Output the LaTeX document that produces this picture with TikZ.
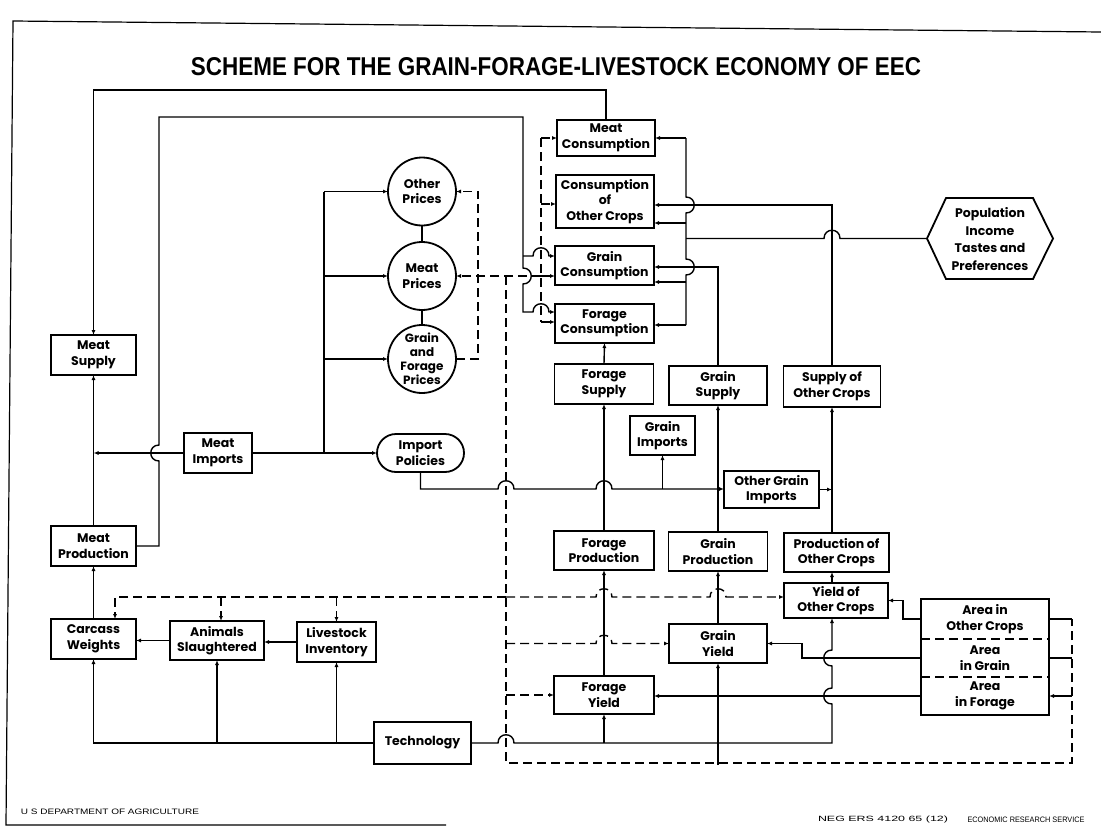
\documentclass[tikz,border=0pt]{standalone}
\usepackage{fontspec}
\setmainfont{Poppins}
\newfontfamily\titlefont{Liberation Sans}
\newfontfamily\footfont{Liberation Sans}
\usetikzlibrary{arrows.meta,shapes.misc,calc}
\tikzset{
  every node/.style={inner sep=0pt, outer sep=0pt},
  lbl/.style={font=\bfseries\fontsize{12.5}{15.5}\selectfont, align=center, text=black},
  box/.style 2 args={lbl, draw, line width=1.8pt, rectangle, minimum width=#1pt, minimum height=#2pt},
  circ/.style={lbl, draw, circle, line width=1.8pt, minimum size=68pt},
  ln/.style={line width=1.4pt},
  thk/.style={line width=2.2pt},
  dsh/.style={line width=1.4pt, dash pattern=on 9pt off 5pt},
  arr/.style={-{Latex[length=5pt,width=4pt]}},
  hjr/.style 2 args={insert path={-- (#1-8,#2) .. controls (#1-8,#2-11) and (#1+8,#2-11) .. (#1+8,#2)}},
  hjl/.style 2 args={insert path={-- (#1+8,#2) .. controls (#1+8,#2-11) and (#1-8,#2-11) .. (#1-8,#2)}},
  vjd/.style 2 args={insert path={-- (#1,#2-8) .. controls (#1+11,#2-8) and (#1+11,#2+8) .. (#1,#2+8)}},
  vjul/.style 2 args={insert path={-- (#1,#2+8) .. controls (#1-11,#2+8) and (#1-11,#2-8) .. (#1,#2-8)}},
}
\begin{document}
\begin{tikzpicture}[x=1pt,y=-1pt]
\useasboundingbox (0,0) rectangle (1101,827);
% frame
\draw[line width=1.2pt] (1101,32) -- (13,21) -- (6,825) -- (446,825);
% title
\node[font=\titlefont\bfseries] (title) at (556,67) {\resizebox{730pt}{18pt}{SCHEME FOR THE GRAIN-FORAGE-LIVESTOCK ECONOMY OF EEC}};
% consumption column
\node[box={98}{36}] (mcons) at (606,138) {Meat\\Consumption};
\node[box={98}{53}] (ocons) at (605,201.5) {Consumption\\of\\Other Crops};
\node[box={99}{39}] (gcons) at (604.5,265.5) {Grain\\Consumption};
\node[box={99}{39}] (fcons) at (604.5,323.5) {Forage\\Consumption};
% supply
\node[box={99}{40}] (fsup) at (604,384) {Forage\\Supply};
\node[box={98}{39}] (gsup) at (718,385.5) {Grain\\Supply};
\node[box={97}{41}] (osup) at (832,386.5) {Supply of\\Other Crops};
\node[box={65}{39}] (gimp) at (662.5,435.5) {Grain\\Imports};
\node[box={95}{37}] (ogimp) at (771.5,489.5) {Other Grain\\Imports};
% production
\node[box={100}{39}] (fprod) at (604,550.5) {Forage\\Production};
\node[box={99}{39}] (gprod) at (718,551.5) {Grain\\Production};
\node[box={105}{39}] (oprod) at (836.5,552.5) {Production of\\Other Crops};
\node[box={104}{35}] (oyield) at (836,600.5) {Yield of\\Other Crops};
\node[box={98}{39}] (gyield) at (718,643.5) {Grain\\Yield};
\node[box={100}{38}] (fyield) at (604,695) {Forage\\Yield};
% area block
\node[lbl, minimum width=128pt, minimum height=40pt] (ar1) at (985,619) {Area in\\Other Crops};
\node[lbl, minimum width=128pt, minimum height=38pt] (ar2) at (985,658) {Area\\in Grain};
\node[lbl, minimum width=128pt, minimum height=38pt] (ar3) at (985,696) {Area\\in Forage};
\draw[line width=1.8pt] (ar1.north west) rectangle (ar3.south east);
\draw[dsh] (ar1.south west) -- (ar1.south east);
\draw[dsh] (ar2.south west) -- (ar2.south east);
% prices
\node[circ] (oprice) at (422,191.5) {Other\\Prices};
\node[circ] (mprice) at (422,276) {Meat\\Prices};
\node[circ, font=\bfseries\fontsize{12}{14}\selectfont] (gfprice) at (422,359) {Grain\\and\\Forage\\Prices};
\node[lbl, draw, rounded rectangle, line width=1.8pt, minimum width=87pt, minimum height=38pt] (impol) at (420.5,453) {Import\\Policies};
% livestock side
\node[box={68}{40}] (mimp) at (218,453) {Meat\\Imports};
\node[box={85}{40}] (msup) at (93.5,355) {Meat\\Supply};
\node[box={85}{40}] (mprod) at (93.5,546) {Meat\\Production};
\node[box={85}{40}] (carc) at (93.5,639) {Carcass\\Weights};
\node[box={94}{39}] (anim) at (217,640.5) {Animals\\Slaughtered};
\node[box={79}{40}] (live) at (336.5,642) {Livestock\\Inventory};
\node[box={97}{42}] (tech) at (422.5,743) {Technology};
% population hexagon
\node[lbl, font=\bfseries\fontsize{12.5}{17.5}\selectfont] (pop) at (990,239) {Population\\Income\\Tastes and\\Preferences};
\draw[line width=1.8pt] (927,238.5) -- (946,198) -- (1033,198) -- (1053,238.5) -- (1033,279) -- (946,279) -- cycle;
\coordinate (popw) at (927,238.5);
% ---- connectors ----
\draw[ln,arr] (mcons.north) |- (msup.north |- 0,90) -- (msup.north);
\draw[ln,arr] (mprod.east) -- (159,546) [vjul={159}{453}] -- (159,117) -- (523,117) [vjd={523}{276}] -- (523,312) [hjr={541}{312}] -- (fcons.west |- 0,312);
\draw[ln,arr] (523,256) [hjr={541}{256}] -- (gcons.west |- 0,256);
\coordinate (mj) at (93.5,453);
\draw[ln,arr] (mimp.west) -- (mj);
\draw[ln,arr] (mprod.north) -- (msup.south);
\draw[ln,arr] (carc.north) -- (mprod.south);
\draw[ln,arr] (anim.west) -- (carc.east |- anim.west);
\draw[ln,arr] (live.west) -- (anim.east |- live.west);
\draw[ln,arr] (tech.west) -| (carc.south);
\draw[ln,arr] (anim.south |- tech.west) -- (anim.south);
\draw[ln,arr] (live.south |- tech.west) -- (live.south);
\draw[ln,arr] (tech.east) [hjr={506}{743}] -- (832,743) [vjul={832}{696}] [vjul={832}{658}] -- (oyield.south -| osup.south);
\draw[ln,arr] (fyield.south |- 0,743) -- (fyield.south);
\draw[ln,arr] (gyield.south |- 0,765) -- (gyield.south);
% price dashed network
\draw[dsh,arr] (gfprice.east) -- (478,359) -- (478,191.5) -- (oprice.east);
\draw[dsh,arr] (541,276) -- (mprice.east);
\draw[dsh] (541,138) -- (541,322);
\draw[dsh,arr] (541,138) -- (mcons.west);
\draw[dsh,arr] (541,204) -- (ocons.west |- 0,204);
\draw[dsh,arr] (541,276) -- (gcons.west |- 0,276);
\draw[dsh,arr] (541,322) -- (fcons.west |- 0,322);
\draw[dsh] (506,276) -- (506,763) -| (1072,619);
\draw[ln] (1072,619) -- (ar1.east);
\draw[ln] (1072,658) -- (ar2.east);
\draw[ln,arr] (1072,696) -- (ar3.east);
\draw[dsh,arr] (506,597) -| (carc.north -| 115,0);
\draw[dsh,arr] (221,597) -- (anim.north -| 221,0);
\draw[dsh,arr] (336.5,597) -- (live.north);
\draw[dsh,arr] (506,597) [hjr={604}{597}] [hjr={718}{597}] -- (oyield.west |- 0,597);
\draw[dsh,arr] (506,643.5) [hjr={604}{643.5}] -- (gyield.west);
\draw[dsh,arr] (506,695) -- (fyield.west);
% imports
\draw[ln,arr] (impol.south) |- (498,489) [hjr={506}{489}] [hjr={604}{489}] -- (ogimp.west |- 0,489);
\draw[ln,arr] (gimp.south |- 0,489) -- (gimp.south);
\draw[ln,arr] (mimp.east) -- (impol.west);
\draw[ln] (324,453) -- (324,191.5);
\draw[ln,arr] (324,191.5) -- (oprice.west);
\draw[ln,arr] (324,276) -- (mprice.west);
\draw[ln,arr] (324,359) -- (gfprice.west);
\draw[thk] (oprice.south) -- (mprice.north);
\draw[thk] (mprice.south) -- (gfprice.north);
% population to consumption
\draw[ln] (686,138) [vjd={686}{205}] [vjd={686}{267}] -- (686,325);
\draw[ln,arr] (686,138) -- (mcons.east);
\draw[ln,arr] (686,223) -- (ocons.east |- 0,223);
\draw[ln,arr] (686,282) -- (gcons.east |- 0,282);
\draw[ln,arr] (686,325) -- (fcons.east |- 0,325);
\draw[ln] (popw) [hjl={832}{238.5}] -- (686,238.5);
% supply to consumption
\draw[ln,arr] (osup.north) |- (ocons.east |- 0,205);
\draw[ln,arr] (gsup.north) |- (gcons.east |- 0,267);
\draw[ln,arr] (fsup.north) -- (fcons.south);
% production to supply
\draw[ln,arr] (gprod.north) -- (gsup.south);
\draw[ln,arr] (fprod.north) -- (fsup.south);
\draw[ln,arr] (oprod.north -| osup.south) -- (osup.south);
\draw[ln,arr] (ogimp.east) -- (osup.south |- ogimp.east);
% yield to production
\draw[ln,arr] (fyield.north) -- (fprod.south);
\draw[ln,arr] (gyield.north) -- (gprod.south);
\draw[ln,arr] (oyield.north -| osup.south) -- (oprod.south -| osup.south);
% area to yields
\draw[ln,arr] (ar1.west) -- (903,619) |- (oyield.east);
\draw[ln,arr] (ar2.west) -- (802,658) |- (gyield.east);
\draw[ln,arr] (ar3.west) -- (fyield.east |- ar3.west);
% footers
\node[font=\footfont] (usda) at (110,812) {\resizebox{178pt}{5.5pt}{U S DEPARTMENT OF AGRICULTURE}};
\node[font=\footfont] (neg) at (883,820) {\resizebox{130pt}{5.5pt}{NEG ERS 4120 65 (12)}};
\node[font=\footfont] (ers) at (1026,820) {\resizebox{117pt}{5.5pt}{ECONOMIC RESEARCH SERVICE}};
\end{tikzpicture}
\end{document}
